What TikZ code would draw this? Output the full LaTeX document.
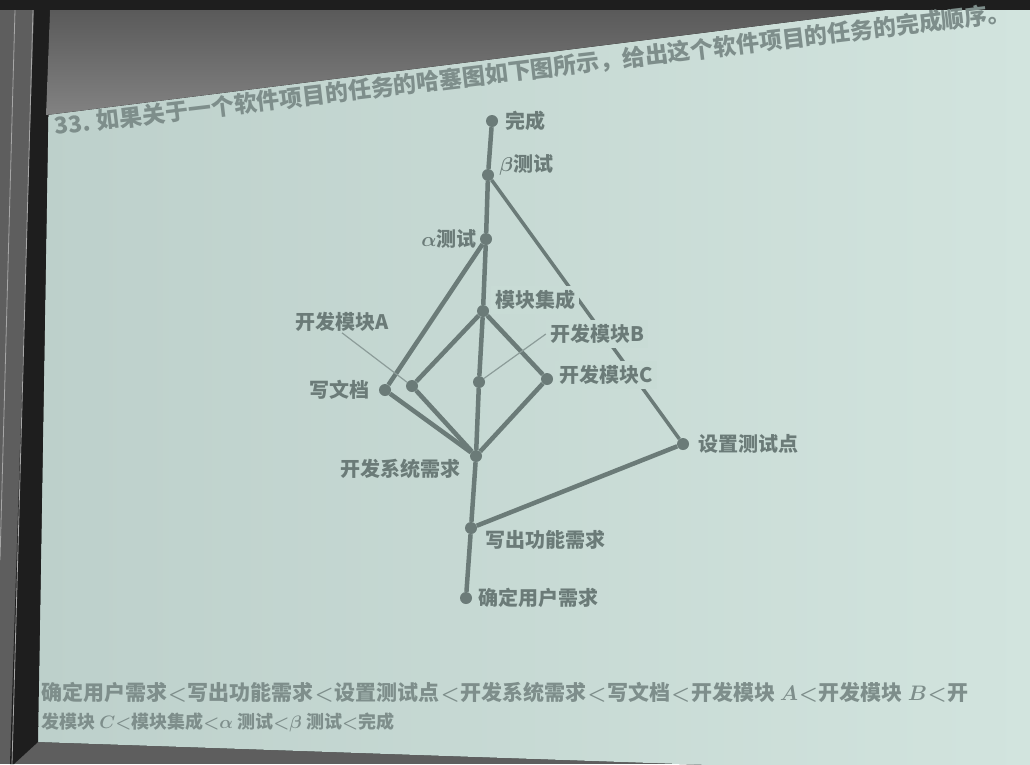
\RequirePackage{fix-cm}
\documentclass[tikz,border=0pt]{standalone}
\usepackage{fontspec}
\newfontfamily\cjk{Noto Sans CJK SC}
\usetikzlibrary{positioning}
\definecolor{slideL}{HTML}{BDD0CB}
\definecolor{slideR}{HTML}{D2E4DE}
\definecolor{slideM}{HTML}{C8DBD5}
\definecolor{ink}{HTML}{6B7B78}
\definecolor{inklight}{HTML}{8C9C99}
\definecolor{titleink}{HTML}{7E8E8B}
\definecolor{frame}{HTML}{5E5E5E}
\definecolor{frameD}{HTML}{1E1E1E}
\definecolor{shadowT}{HTML}{5A5A5A}
\definecolor{shadowB}{HTML}{828282}
\newcommand\prc{\kern1pt$<$\kern1pt}

\begin{document}
\begin{tikzpicture}[x=1pt, y=-1pt,
	dot/.style={circle, fill=ink, minimum size=12pt, inner sep=0pt},
	edge/.style={ink, line width=4.5pt},
	lead/.style={inklight, line width=1.2pt},
	lab/.style={text=ink, font=\cjk\bfseries\boldmath\fontsize{20}{24}\selectfont, inner sep=1pt},
	mask/.style={lab, fill=slideM, inner sep=4pt},
	title/.style={anchor=base west, rotate=6.8, inner sep=0pt, text=titleink, font=\cjk\bfseries\fontsize{23}{26}\selectfont},
	answer/.style={anchor=west, inner sep=0pt, text=titleink, font=\cjk\bfseries\boldmath\fontsize{21}{26}\selectfont}]
	\useasboundingbox (0,0) rectangle (1030,764);
	\clip (0,0) rectangle (1030,764);
	% photo of the projected slide
	\fill[frame] (0,0) rectangle (1030,764);
	\fill[left color=slideL, right color=slideR] (50,10) -- (1030,10) -- (1030,776) -- (38,742) -- cycle;
	\fill[frameD] (34,10) -- (50,10) -- (38,742) -- (14,764) -- (10,764) -- cycle;
	\draw[gray!70, line width=0.8pt] (15,10) -- (0,560);
	\draw[gray!70, line width=0.8pt] (33,10) -- (12,764);
	\fill[top color=shadowT, bottom color=shadowB] (50,10) -- (885,10) -- (46,115) -- cycle;
	\fill[frameD] (0,0) rectangle (1030,10);
	\node[title] (ttl) at (55,135) {33. 如果关于一个软件项目的任务的哈塞图如下图所示，给出这个软件项目的任务的完成顺序。};

	% Hasse diagram
	\node[dot] (done) at (492,121) {};
	\node[dot] (beta) at (488,175) {};
	\node[dot] (alpha) at (486,239) {};
	\node[dot] (merge) at (483,311) {};
	\node[dot] (modA) at (412,386) {};
	\node[dot] (doc) at (385,390) {};
	\node[dot] (modB) at (479,382) {};
	\node[dot] (modC) at (547,379) {};
	\node[dot] (sys) at (476,456) {};
	\node[dot] (test) at (683,444) {};
	\node[dot] (func) at (471,528) {};
	\node[dot] (user) at (466,598) {};

	\draw[edge] (user) -- (func);
	\draw[edge] (func) -- (sys);
	\draw[edge] (func) -- (test);
	\draw[edge] (sys) -- (doc);
	\draw[edge] (sys) -- (modA);
	\draw[edge] (sys) -- (modB);
	\draw[edge] (sys) -- (modC);
	\draw[edge] (doc) -- (alpha);
	\draw[edge] (modA) -- (merge);
	\draw[edge] (modB) -- (merge);
	\draw[edge] (modC) -- (merge);
	\draw[edge] (merge) -- (alpha);
	\draw[edge] (alpha) -- (beta);
	\draw[edge] (beta) -- (done);
	\draw[edge, line width=3.5pt] (test) -- (beta);

	\node[lab, right=6pt of done] (lbdone) {完成};
	\node[lab, right=4pt of beta, yshift=10pt] (lbbeta) {$\beta$测试};
	\node[lab, left=2pt of alpha] (lbalpha) {$\alpha$测试};
	\node[mask, right=2pt of merge, yshift=11pt] (lbmerge) {模块集成};
	\path (modA) ++(-70,-64) node[lab] (lbA) {开发模块A};
	\node[lab, left=8pt of doc] (lbdoc) {写文档};
	\path (modB) ++(118,-48) node[mask] (lbB) {开发模块B};
	\node[mask, right=2pt of modC, yshift=4pt] (lbC) {开发模块C};
	\path (sys) ++(-76,13) node[lab] (lbsys) {开发系统需求};
	\node[lab, right=8pt of test] (lbtest) {设置测试点};
	\path (func) ++(74,12) node[lab] (lbfunc) {写出功能需求};
	\node[lab, right=5pt of user] (lbuser) {确定用户需求};
	\draw[lead] (lbA.south) -- (modA);
	\draw[lead] (lbB.west) -- (modB);

	% answer
	\node[answer] (ans1) at (41,692) {确定用户需求\prc 写出功能需求\prc 设置测试点\prc 开发系统需求\prc 写文档\prc 开发模块 $A$\prc 开发模块 $B$\prc 开};
	\path (ans1.west) ++(0,30) node[answer, font=\cjk\bfseries\boldmath\fontsize{18}{22}\selectfont] (ans2) {发模块 $C$$<$模块集成$<$$\alpha$ 测试$<$$\beta$ 测试$<$完成};
\end{tikzpicture}
\end{document}
